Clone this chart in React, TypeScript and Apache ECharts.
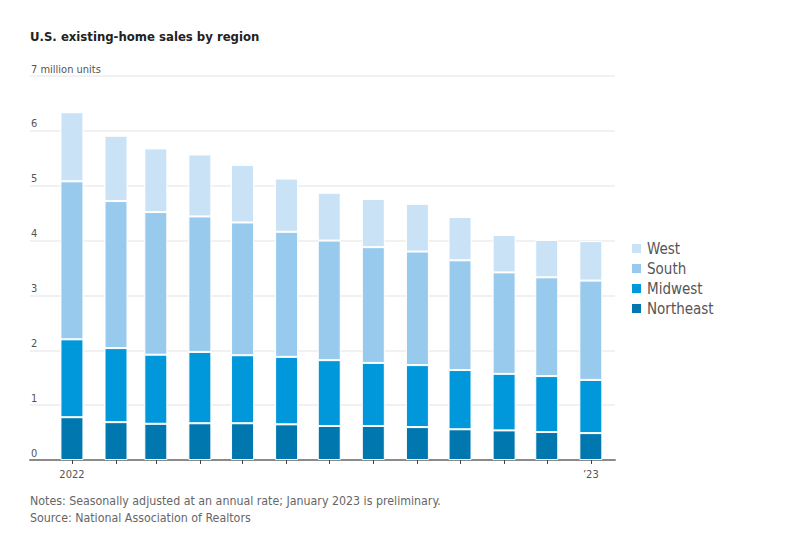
import React, { useEffect, useRef } from "react";
import * as echarts from "echarts";

const months = [
  "2022-01-01", "2022-02-01", "2022-03-01", "2022-04-01", "2022-05-01", "2022-06-01",
  "2022-07-01", "2022-08-01", "2022-09-01", "2022-10-01", "2022-11-01", "2022-12-01",
  "2023-01-01",
];
const northeast = [0.78, 0.69, 0.66, 0.67, 0.67, 0.65, 0.62, 0.62, 0.6, 0.56, 0.54, 0.51, 0.49];
const midwest = [1.42, 1.35, 1.26, 1.3, 1.24, 1.23, 1.2, 1.15, 1.13, 1.08, 1.03, 1.02, 0.97];
const south = [2.88, 2.68, 2.6, 2.47, 2.42, 2.28, 2.18, 2.11, 2.07, 2.0, 1.85, 1.8, 1.81];
const west = [1.26, 1.19, 1.16, 1.13, 1.05, 0.97, 0.87, 0.88, 0.87, 0.79, 0.68, 0.68, 0.72];

const seriesNames = ["Northeast", "Midwest", "South", "West"];
const seriesColors = ["#0077ae", "#0098da", "#98caee", "#c9e2f6"];
const legendOrder = ["West", "South", "Midwest", "Northeast"];

const yTopLabel = "7 million units";
const xTickLabels: Record<string, string> = { "2022-0": "2022", "2023-0": "\u201923" };

const titleText = "U.S. existing-home sales by region";
const notesText = "Notes: Seasonally adjusted at an annual rate; January 2023 is preliminary.";
const sourceText = "Source: National Association of Realtors";

const FONT = "'Liberation Sans Narrow', 'DejaVu Sans Condensed', Roboto, sans-serif";

export default function App() {
  const ref = useRef<HTMLDivElement>(null);
  useEffect(() => {
    document.body.style.margin = "0";
    const chart = echarts.init(ref.current!, null, { renderer: "svg" });
    const values = [northeast, midwest, south, west];
    const DAY = 86400000;
    const BAR_W = 23;
    const GRID_L = 30;
    const GRID_R = 190;
    const axisLen = 805 - GRID_L - GRID_R;
    // desired visible extent of the time axis
    const wantMin = new Date(2022, 0, 1).getTime() - 29.5 * DAY;
    const wantMax = new Date(2023, 0, 1).getTime() + 17 * DAY;
    // ECharts widens a bar axis by the bar width; pre-shrink so the final extent is the wanted one
    const k = 1 - BAR_W / axisLen;
    const c = (wantMin + wantMax) / 2;
    const half = ((wantMax - wantMin) * k) / 2;
    const xMin = c - half;
    const xMax = c + half;
    chart.setOption({
      animation: false,
      textStyle: { fontFamily: FONT },
      grid: { left: GRID_L, right: GRID_R, top: 76, bottom: 83 },
      legend: {
        orient: "vertical",
        left: 630,
        top: 241,
        icon: "rect",
        itemWidth: 11,
        itemHeight: 11,
        itemGap: 5,
        padding: 0,
        data: legendOrder,
        textStyle: { fontSize: 15, color: "#555", fontFamily: FONT, lineHeight: 15 },
      },
      xAxis: {
        type: "time",
        min: xMin,
        max: xMax,
        minInterval: 28 * DAY,
        maxInterval: 31 * DAY,
        axisLine: { show: true, lineStyle: { color: "#8a8a8a", width: 2 } },
        axisTick: { show: true, length: 4, lineStyle: { color: "#444", width: 1 } },
        splitLine: { show: false },
        axisLabel: {
          showMinLabel: false,
          showMaxLabel: false,
          margin: 9,
          fontSize: 11,
          color: "#555",
          fontFamily: FONT,
          formatter: (v: number) => {
            const d = new Date(v);
            if (d.getDate() !== 1) return "";
            return xTickLabels[d.getFullYear() + "-" + d.getMonth()] || "";
          },
        },
      },
      yAxis: {
        type: "value",
        min: 0,
        max: 7,
        interval: 1,
        axisLine: { show: false },
        axisTick: { show: false },
        splitLine: { show: true, lineStyle: { color: "#ececec", width: 1.5 } },
        axisLabel: {
          inside: true,
          margin: 1,
          align: "left",
          verticalAlign: "bottom",
          lineHeight: 14,
          fontSize: 11,
          color: "#555",
          fontFamily: FONT,
          formatter: (v: number) => (v === 7 ? yTopLabel : String(v)),
        },
      },
      graphic: [
        {
          type: "text",
          left: 30,
          top: 30,
          style: { text: titleText, fontSize: 13, fontWeight: "bold", fill: "#222", fontFamily: FONT },
        },
        {
          type: "text",
          left: 30,
          top: 495,
          style: { text: notesText, fontSize: 12.3, fill: "#666", fontFamily: FONT },
        },
        {
          type: "text",
          left: 30,
          top: 512,
          style: { text: sourceText, fontSize: 12.3, fill: "#666", fontFamily: FONT },
        },
      ],
      series: seriesNames.map((name, i) => ({
        name,
        type: "bar",
        stack: "total",
        barWidth: BAR_W,
        itemStyle: { color: seriesColors[i], borderColor: "#fff", borderWidth: 1 },
        emphasis: { disabled: true },
        data: months.map((m, j) => [m, values[i][j]]),
      })),
    });
    return () => chart.dispose();
  }, []);
  return <div ref={ref} style={{ width: 805, height: 543 }} />;
}
